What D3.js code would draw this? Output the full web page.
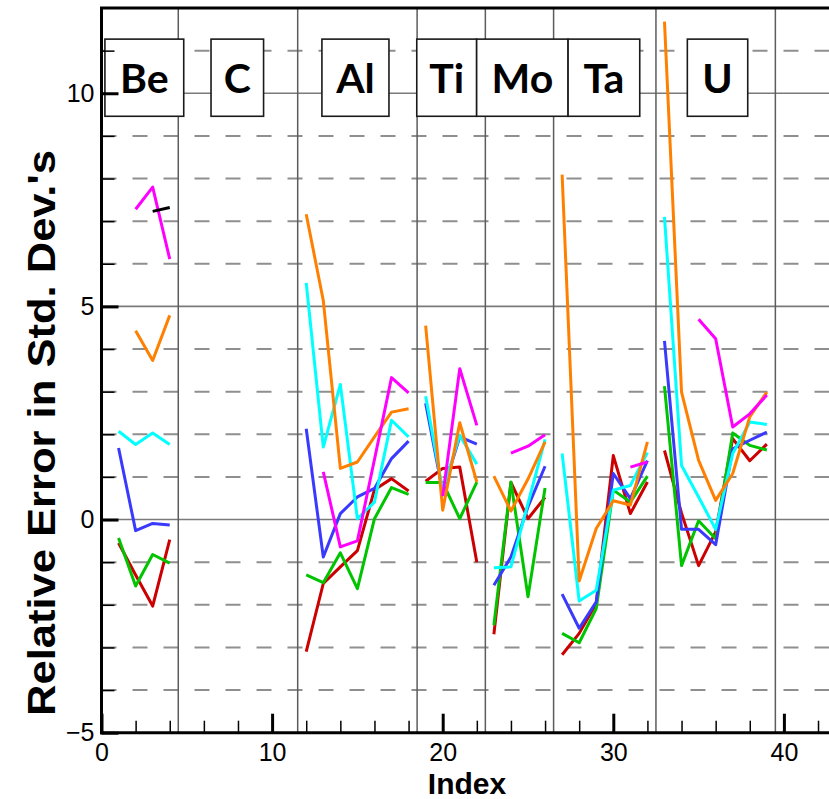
<!DOCTYPE html>
<html>
<head>
<meta charset="utf-8">
<script src="https://cdn.jsdelivr.net/npm/d3@7"></script>
<style>
  html, body { margin: 0; padding: 0; background: #ffffff; }
  svg { display: block; }
</style>
</head>
<body>
<svg id="chart" width="829" height="799"></svg>
<script>
// ---------------- data ----------------
const indices = d3.range(1, 40); // 1..39
const groups = [[1, 4], [12, 18], [19, 22], [23, 26], [27, 32], [33, 39]];
const separators = [4.5, 11.5, 18.5, 22.5, 26.5, 32.5, 39.5];
const elementNames = ["Be", "C", "Al", "Ti", "Mo", "Ta", "U"];
const elementBoxStart = [0.2, 6.42, 12.92, 18.48, 21.99, 27.35, 34.34];
const elementBoxEnd   = [4.82, 9.5, 16.85, 21.99, 27.35, 31.55, 37.88];
const xMajorTicks = [0, 10, 20, 30, 40];
const xMinorTicks = [2, 4, 6, 8, 12, 14, 16, 18, 22, 24, 26, 28, 32, 34, 36, 38, 42, 44];
const yMajorTicks = [-5, 0, 5, 10];
const yMinorTicks = [-4, -3, -2, -1, 1, 2, 3, 4, 6, 7, 8, 9, 11];
const ySolidGrid = [0, 5, 10];
const yDashedGrid = [-4, -3, -2, -1, 1, 2, 3, 4, 6, 7, 8, 9, 11];

const N = null;
//                 1     2     3     4    5  6  7  8  9 10 11   12    13    14    15    16    17    18    19    20    21    22    23    24    25    26    27    28    29    30    31    32    33    34    35    36    37    38    39
const redVals     = [-0.55,-1.30,-2.03,-0.47,N,N,N,N,N,N,N, -3.10,-1.50,-1.11,-0.73, 0.70, 0.96, 0.67, 0.90, 1.20, 1.23,-1.00,-2.69, 0.87, 0.02, 0.52,-3.17,-2.67,-1.97, 1.50, 0.14, 0.88, 1.62, 0.15,-1.08,-0.29, 1.90, 1.38, 1.77];
const greenVals   = [-0.43,-1.56,-0.82,-1.02,N,N,N,N,N,N,N, -1.30,-1.48,-0.78,-1.62, 0.02, 0.75, 0.59, 0.87, 0.87, 0.02, 0.88,-2.48, 0.88,-1.81, 0.74,-2.67,-2.89,-2.09, 0.69, 0.41, 1.02, 3.13,-1.08,-0.03,-0.45, 2.03, 1.74, 1.63];
const blueVals    = [ 1.68,-0.26,-0.09,-0.13,N,N,N,N,N,N,N,  2.13,-0.88, 0.14, 0.53, 0.73, 1.43, 1.84, 2.73, 0.65, 1.94, 1.77,-1.54,-0.88, 0.30, 1.25,-1.75,-2.55,-1.93, 1.08, 0.49, 1.38, 4.19,-0.23,-0.23,-0.59, 1.66, 1.86, 2.05];
const cyanVals    = [ 2.07, 1.76, 2.03, 1.76,N,N,N,N,N,N,N,  5.55, 1.70, 3.17, 0.02, 0.41, 2.33, 1.94, 2.89, 0.69, 1.98, 1.30,-1.13,-1.11, 0.38, 1.88, 1.55,-1.91,-1.66, 0.69, 0.80, 1.57, 7.10, 1.27, 0.53,-0.23, 1.55, 2.29, 2.23];
const orangeVals  = [    N, 4.43, 3.73, 4.79,N,N,N,N,N,N,N,  7.16, 5.14, 1.20, 1.35, 1.94, 2.52, 2.60, 4.55, 0.22, 2.27, 0.88, 1.02, 0.20, 0.95, 1.82, 8.09,-1.44,-0.21, 0.44, 0.34, 1.82,11.68, 2.99, 1.39, 0.45, 1.08, 2.41, 2.99];
const magentaVals = [    N, 7.28, 7.80, 6.11,N,N,N,N,N,N,N,     N, 1.12,-0.64,-0.50, 1.41, 3.33, 2.97,    N, 0.55, 3.54, 2.21,    N, 1.56, 1.72, 1.99,    N,    N,    N,    N, 1.23, 1.35,    N,    N, 4.70, 4.24, 2.17, 2.48, 2.92];
const blackVals   = [    N,    N, 7.23, 7.32,N,N,N,N,N,N,N,     N,    N,    N,    N,    N,    N,    N,    N,    N,    N,    N,    N,    N,    N,    N,    N,    N,    N,    N,    N,    N,    N,    N,    N,    N,    N,    N,    N];

const series = [
  { name: "red",     color: "#cc0000", values: redVals },
  { name: "green",   color: "#00c400", values: greenVals },
  { name: "blue",    color: "#3a3aff", values: blueVals },
  { name: "cyan",    color: "#00ffff", values: cyanVals },
  { name: "orange",  color: "#ff8000", values: orangeVals },
  { name: "magenta", color: "#ff00ff", values: magentaVals },
  { name: "black",   color: "#000000", values: blackVals }
];

// ---------------- layout ----------------
const W = 829, H = 799;
const x = d3.scaleLinear().domain([0, 45]).range([101.5, 101.5 + 45 * 17.06]);
const y = d3.scaleLinear().domain([-5, 12]).range([732.7, 8]);

const svg = d3.select("#chart");
svg.append("rect").attr("width", W).attr("height", H).attr("fill", "#fff");

// grid
const grid = svg.append("g");
grid.selectAll("line.dash").data(yDashedGrid).join("line")
  .attr("class", "dash")
  .attr("x1", x(0)).attr("x2", W)
  .attr("y1", d => y(d)).attr("y2", d => y(d))
  .attr("stroke", "#8f8f8f").attr("stroke-width", 2)
  .attr("stroke-dasharray", "15,16");
grid.selectAll("line.solid").data(ySolidGrid).join("line")
  .attr("class", "solid")
  .attr("x1", x(0)).attr("x2", W)
  .attr("y1", d => y(d)).attr("y2", d => y(d))
  .attr("stroke", "#7a7a7a").attr("stroke-width", 1.6);
grid.selectAll("line.sep").data(separators).join("line")
  .attr("class", "sep")
  .attr("x1", d => x(d)).attr("x2", d => x(d))
  .attr("y1", y(12)).attr("y2", y(-5))
  .attr("stroke", "#5c5c5c").attr("stroke-width", 1.5);

// lines
const line = d3.line()
  .defined(d => d.v !== null)
  .x(d => x(d.i))
  .y(d => y(d.v));

const lineG = svg.append("g").attr("fill", "none")
  .attr("stroke-width", 3).attr("stroke-linejoin", "round").attr("stroke-linecap", "butt");
series.forEach(s => {
  groups.forEach(([a, b]) => {
    const pts = indices.filter(i => i >= a && i <= b).map(i => ({ i, v: s.values[i - 1] }));
    if (pts.filter(p => p.v !== null).length < 2) return;
    lineG.append("path").datum(pts)
      .attr("d", line)
      .attr("stroke", s.color);
  });
});

// element label boxes
const boxTop = y(11.27), boxBottom = y(9.46);
const boxes = svg.append("g");
elementNames.forEach((name, k) => {
  const x0 = x(elementBoxStart[k]), x1 = x(elementBoxEnd[k]);
  boxes.append("rect")
    .attr("x", x0).attr("y", boxTop)
    .attr("width", x1 - x0).attr("height", boxBottom - boxTop)
    .attr("fill", "#fff").attr("stroke", "#1a1a1a").attr("stroke-width", 1.6);
  boxes.append("text")
    .attr("x", (x0 + x1) / 2).attr("y", boxTop + 54)
    .attr("text-anchor", "middle")
    .attr("font-family", "Lato, 'Open Sans', sans-serif")
    .attr("font-weight", "bold")
    .attr("font-size", 41)
    .attr("fill", "#000")
    .text(name);
});

// axes (inward ticks)
function styleTicks(g, w) {
  g.select(".domain").remove();
  g.selectAll(".tick line").attr("stroke", "#000").attr("stroke-width", w);
  g.selectAll(".tick text").remove();
}
svg.append("g").attr("transform", `translate(${x(0)},0)`)
  .call(d3.axisRight(y).tickValues(yMinorTicks).tickSize(13).tickFormat(""))
  .call(g => styleTicks(g, 1.5));
svg.append("g").attr("transform", `translate(${x(0)},0)`)
  .call(d3.axisRight(y).tickValues(yMajorTicks).tickSize(17).tickFormat(""))
  .call(g => styleTicks(g, 3));
svg.append("g").attr("transform", `translate(0,${y(-5)})`)
  .call(d3.axisTop(x).tickValues(xMinorTicks).tickSize(12).tickFormat(""))
  .call(g => styleTicks(g, 1.5));
svg.append("g").attr("transform", `translate(0,${y(-5)})`)
  .call(d3.axisTop(x).tickValues(xMajorTicks).tickSize(19).tickFormat(""))
  .call(g => styleTicks(g, 3));

// tick labels
const yLab = svg.append("g").attr("transform", `translate(${x(0) - 7},0)`)
  .call(d3.axisLeft(y).tickValues(yMajorTicks).tickSize(0).tickPadding(0).tickFormat(d3.format("d")));
yLab.select(".domain").remove();
yLab.selectAll("text").attr("font-family", "'Liberation Sans', Arial, sans-serif")
  .attr("font-size", 25).attr("fill", "#000");

const xLab = svg.append("g").attr("transform", `translate(0,${y(-5) + 7})`)
  .call(d3.axisBottom(x).tickValues(xMajorTicks).tickSize(0).tickPadding(4).tickFormat(d3.format("d")));
xLab.select(".domain").remove();
xLab.selectAll("text").attr("font-family", "'Liberation Sans', Arial, sans-serif")
  .attr("font-size", 25).attr("fill", "#000");

// frame
const frame = svg.append("g").attr("stroke", "#000").attr("stroke-width", 3);
frame.append("line").attr("x1", x(0)).attr("x2", x(0)).attr("y1", y(12)).attr("y2", y(-5) + 1.5);
frame.append("line").attr("x1", x(0) - 1.5).attr("x2", W).attr("y1", y(12)).attr("y2", y(12));
frame.append("line").attr("x1", x(0) - 1.5).attr("x2", W).attr("y1", y(-5)).attr("y2", y(-5));

// axis titles
svg.append("text")
  .attr("x", 467).attr("y", 794)
  .attr("text-anchor", "middle")
  .attr("font-family", "'Liberation Sans', Arial, sans-serif")
  .attr("font-weight", "bold").attr("font-size", 30)
  .text("Index");

svg.append("text")
  .attr("transform", "translate(55,433) rotate(-90)")
  .attr("text-anchor", "middle")
  .attr("font-family", "'Liberation Sans', Arial, sans-serif")
  .attr("font-weight", "bold").attr("font-size", 38)
  .attr("textLength", 566).attr("lengthAdjust", "spacingAndGlyphs")
  .text("Relative Error in Std. Dev.'s");
</script>
</body>
</html>
